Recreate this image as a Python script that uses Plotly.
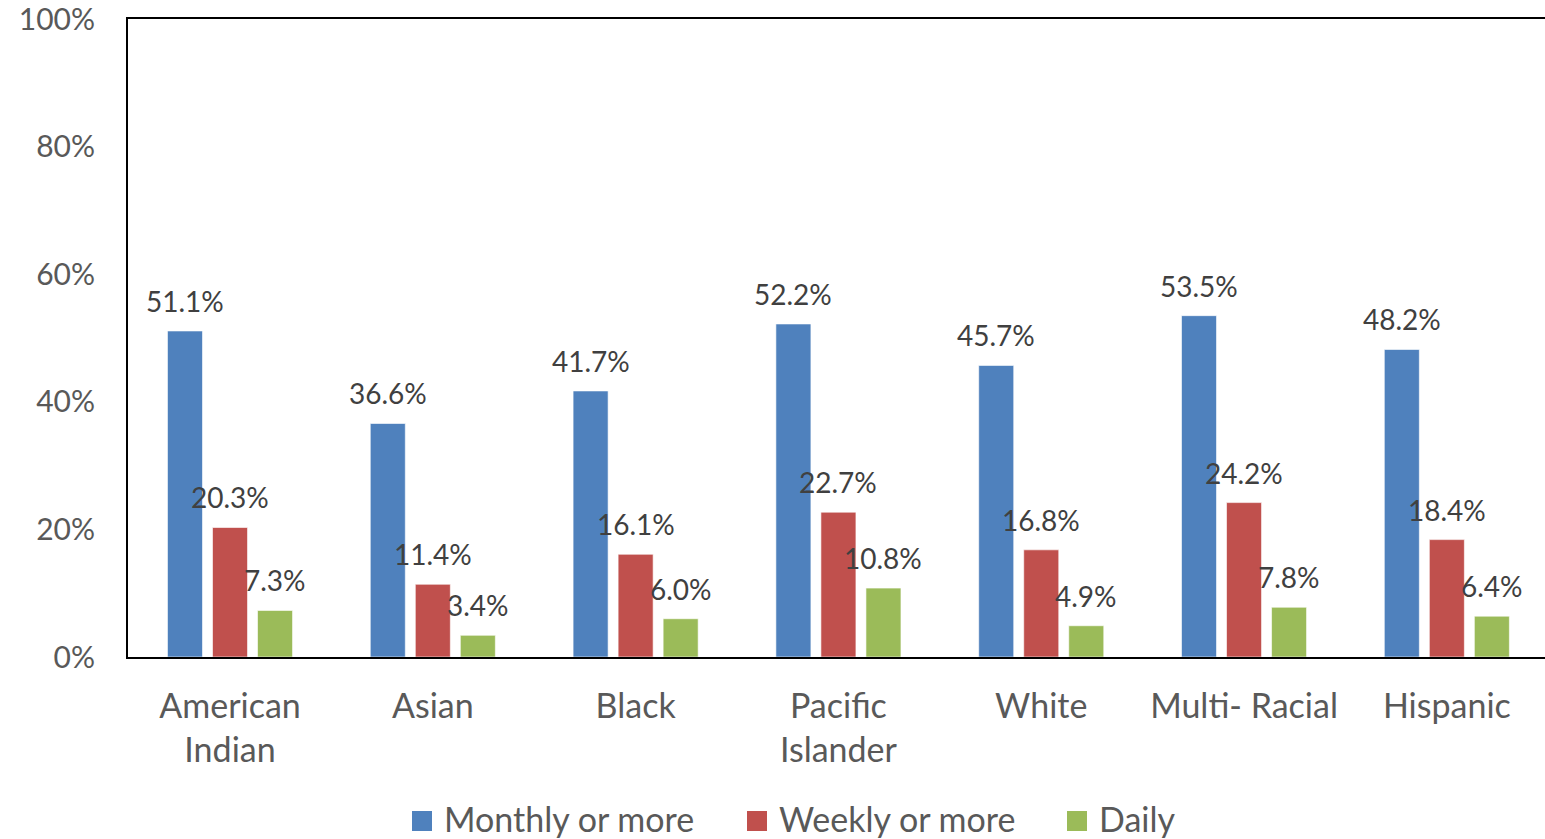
import plotly.graph_objects as go

# Data
groups = ["American<br>Indian", "Asian", "Black", "Pacific<br>Islander", "White", "Multi- Racial", "Hispanic"]
monthly = [51.1, 36.6, 41.7, 52.2, 45.7, 53.5, 48.2]
weekly = [20.3, 11.4, 16.1, 22.7, 16.8, 24.2, 18.4]
daily = [7.3, 3.4, 6.0, 10.8, 4.9, 7.8, 6.4]

series = [
    ("Monthly or more", monthly, "#4F81BD", -45),
    ("Weekly or more", weekly, "#C0504D", 0),
    ("Daily", daily, "#9BBB59", 45),
]

FONT = "Lato"
# body margin is reset to 0 below, so the figure fills the window from the corner
W, H = 1545, 839
L, T, B = 128, 19, 182
PW, PH = W - L, H - T - B


def px_x(p):
    return (p - L) / PW


def px_y(p):
    return (H - B - p) / PH


fig = go.Figure()
annotations = []
shapes = []
legend_left = [412, 747, 1067]
for (name, vals, color, shift), lx in zip(series, legend_left):
    fig.add_trace(go.Bar(
        name=name, x=groups, y=vals, showlegend=False,
        marker=dict(color=color, line=dict(color="rgba(255,255,255,0.6)", width=1)),
    ))
    # value labels sit a bit above each bar, like Excel does
    for g, v in zip(groups, vals):
        annotations.append(dict(
            x=g, y=v, text=f"{v:.1f}%", showarrow=False,
            xshift=shift, yshift=30, yanchor="middle",
            font=dict(family=FONT, size=28, color="#404040"),
        ))
    # legend drawn by hand so the swatches match the Excel size
    shapes.append(dict(
        type="rect", xref="paper", yref="paper",
        x0=px_x(lx), x1=px_x(lx + 20), y0=px_y(831), y1=px_y(811),
        fillcolor=color, line=dict(width=0),
    ))
    annotations.append(dict(
        xref="paper", yref="paper", x=px_x(lx + 30), y=px_y(819),
        xanchor="left", yanchor="middle", text=name, showarrow=False,
        font=dict(family=FONT, size=34, color="#595959"),
    ))

fig.update_layout(
    width=W, height=H,
    margin=dict(l=L, r=0, t=T, b=B, autoexpand=False),
    paper_bgcolor="white", plot_bgcolor="white",
    barmode="group", bargap=0.334, bargroupgap=0.222,
    font=dict(family=FONT, color="#595959"),
    annotations=annotations, shapes=shapes,
    showlegend=False,
)
fig.update_xaxes(
    type="category", range=[-0.503, 6.484], automargin=False,
    showline=True, linecolor="black", linewidth=2, mirror=True,
    showgrid=False, ticks="", ticklabelstandoff=18,
    tickfont=dict(family=FONT, size=34, color="#595959"),
)
fig.update_yaxes(
    range=[0, 100], tickvals=[0, 20, 40, 60, 80, 100], automargin=False,
    ticktext=["0%", "20%", "40%", "60%", "80%", "100%"],
    showline=True, linecolor="black", linewidth=2,
    showgrid=False, zeroline=False, ticks="", ticklabelstandoff=25,
    ticklabeloverflow="allow",
    tickfont=dict(family=FONT, size=30, color="#595959"),
)

fig.write_html(
    "out.html",
    config={"displayModeBar": False},
    post_script="document.body.style.margin='0'; document.body.style.overflow='hidden';",
)
